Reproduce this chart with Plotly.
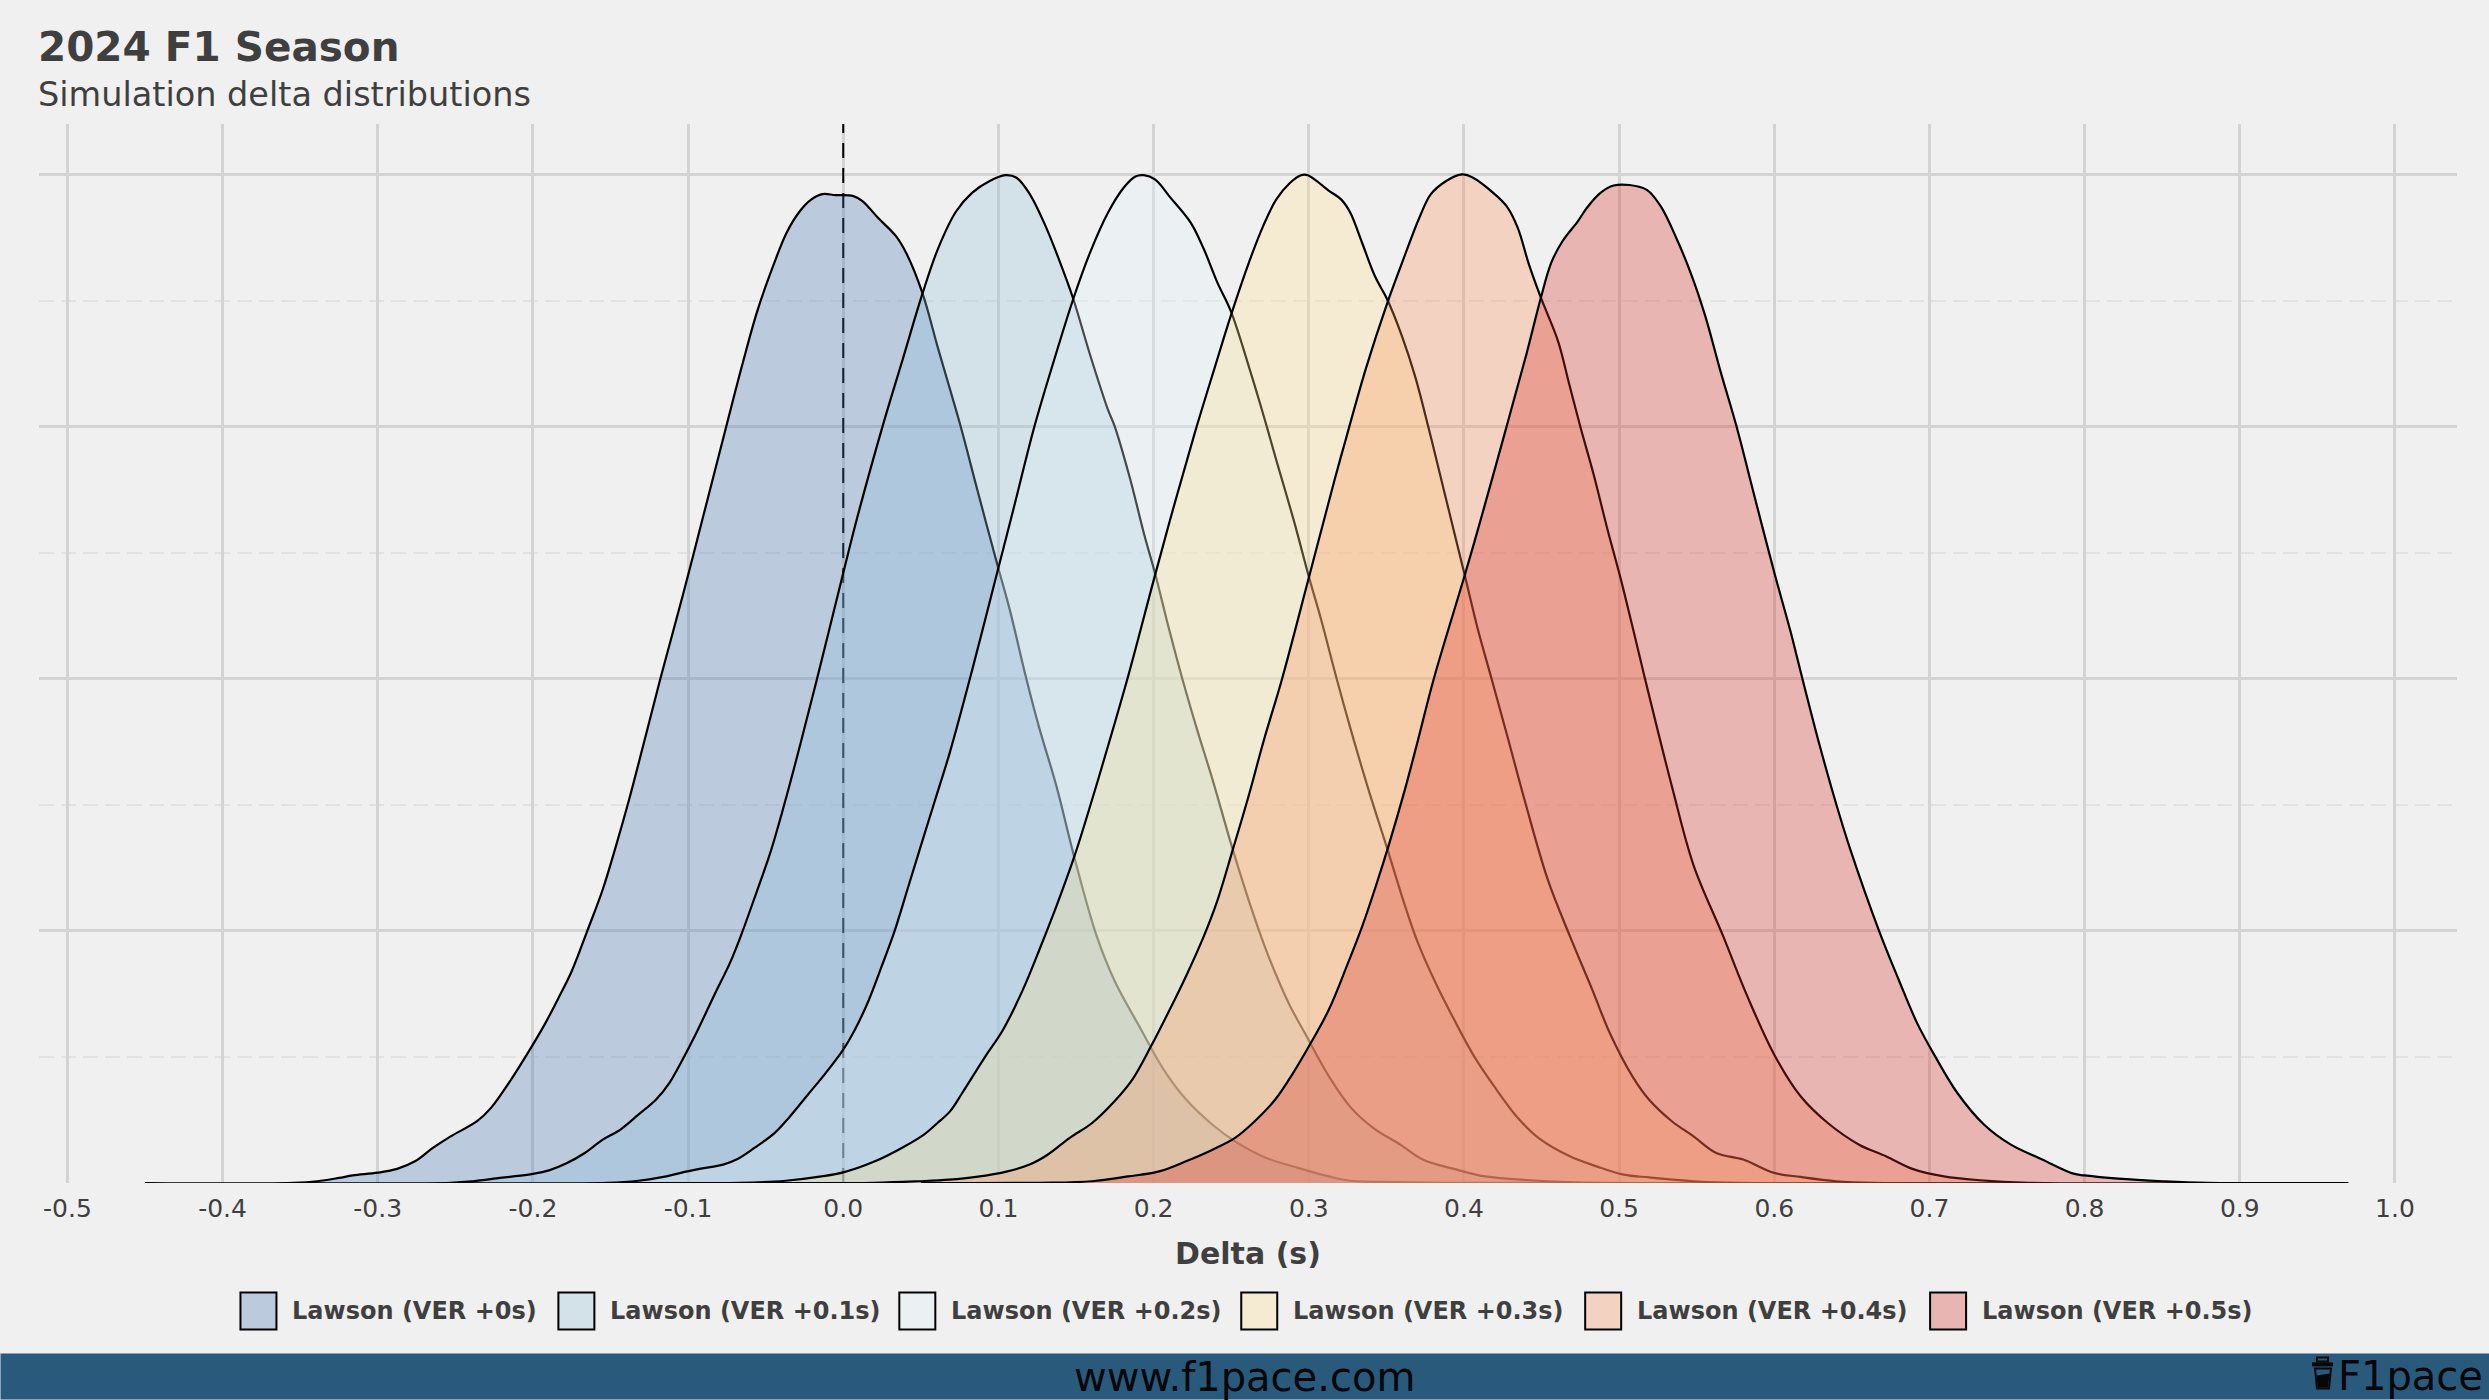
import plotly.graph_objects as go

TITLE = "2024 F1 Season"
SUBTITLE = "Simulation delta distributions"
X_LABEL = "Delta (s)"
FOOTER = "www.f1pace.com"
BRAND = "F1pace"

names = [
    "Lawson (VER +0s)",
    "Lawson (VER +0.1s)",
    "Lawson (VER +0.2s)",
    "Lawson (VER +0.3s)",
    "Lawson (VER +0.4s)",
    "Lawson (VER +0.5s)",
]
colors = ["#4575b4", "#91bfdb", "#e0f3f8", "#fee090", "#fc8d59", "#d73027"]

tick_vals = [-0.5, -0.4, -0.3, -0.2, -0.1, 0.0, 0.1, 0.2, 0.3, 0.4, 0.5, 0.6, 0.7, 0.8, 0.9, 1.0]
tick_text = ["-0.5", "-0.4", "-0.3", "-0.2", "-0.1", "0.0", "0.1", "0.2", "0.3", "0.4", "0.5", "0.6", "0.7", "0.8", "0.9", "1.0"]

x0 = [-0.45, -0.354, -0.339, -0.325, -0.316, -0.3, -0.2875, -0.276, -0.2645, -0.253, -0.236, -0.227, -0.2155, -0.2, -0.1925, -0.184, -0.175, -0.165, -0.155, -0.1465, -0.138, -0.129, -0.118, -0.103, -0.09, -0.0754, -0.0653, -0.0553, -0.045, -0.0365, -0.028, -0.0207, -0.0135, -0.005, 0.0066, 0.0124, 0.0224, 0.034, 0.041, 0.051, 0.0613, 0.0757, 0.0858, 0.0996, 0.1073, 0.118, 0.126, 0.1374, 0.149, 0.1633, 0.175, 0.192, 0.2065, 0.221, 0.238, 0.2525, 0.2727, 0.293, 0.313, 0.327, 0.356, 0.385, 0.47]
y0 = [0, 0.001, 0.007, 0.02, 0.03, 0.041, 0.056, 0.086, 0.139, 0.185, 0.245, 0.298, 0.397, 0.549, 0.628, 0.728, 0.84, 0.999, 1.164, 1.336, 1.521, 1.733, 1.997, 2.34, 2.65, 3.0, 3.24, 3.46, 3.64, 3.769, 3.854, 3.9, 3.922, 3.918, 3.914, 3.894, 3.828, 3.755, 3.683, 3.53, 3.306, 3.0, 2.763, 2.446, 2.274, 2.0, 1.812, 1.574, 1.29, 0.98, 0.8, 0.608, 0.45, 0.331, 0.231, 0.165, 0.099, 0.06, 0.026, 0.009, 0.004, 0.001, 0]

x1 = [-0.35, -0.253, -0.2386, -0.2213, -0.2127, -0.2, -0.1896, -0.178, -0.1666, -0.155, -0.1436, -0.132, -0.1206, -0.112, -0.1047, -0.0947, -0.083, -0.073, -0.066, -0.056, -0.047, -0.0386, -0.0285, -0.017, 0.0, 0.0095, 0.0253, 0.0383, 0.0512, 0.0613, 0.0728, 0.083, 0.0944, 0.1045, 0.1117, 0.1203, 0.1304, 0.139, 0.148, 0.159, 0.1706, 0.175, 0.185, 0.1937, 0.2009, 0.2095, 0.2187, 0.228, 0.238, 0.251, 0.264, 0.274, 0.287, 0.2986, 0.313, 0.3273, 0.3417, 0.359, 0.3734, 0.3935, 0.4137, 0.4424, 0.471, 0.57]
y1 = [0, 0.001, 0.007, 0.02, 0.026, 0.036, 0.05, 0.079, 0.119, 0.172, 0.212, 0.271, 0.331, 0.397, 0.476, 0.595, 0.747, 0.873, 0.98, 1.151, 1.31, 1.488, 1.72, 1.997, 2.419, 2.65, 3.0, 3.266, 3.53, 3.709, 3.854, 3.927, 3.974, 3.997, 3.987, 3.921, 3.795, 3.663, 3.511, 3.286, 3.067, 3.0, 2.79, 2.578, 2.419, 2.208, 1.996, 1.799, 1.6, 1.323, 1.071, 0.9, 0.714, 0.582, 0.423, 0.298, 0.218, 0.152, 0.093, 0.056, 0.026, 0.011, 0.003, 0]

x2 = [-0.25, -0.152, -0.132, -0.1177, -0.1004, -0.0918, -0.0774, -0.0688, -0.0573, -0.0443, -0.0342, -0.0227, -0.0112, 0.0, 0.0075, 0.0161, 0.0247, 0.0334, 0.042, 0.0506, 0.0593, 0.0688, 0.0829, 0.1, 0.11, 0.1232, 0.136, 0.1485, 0.159, 0.1706, 0.1807, 0.188, 0.1937, 0.2009, 0.211, 0.224, 0.2325, 0.2412, 0.2498, 0.262, 0.2706, 0.279, 0.2908, 0.3, 0.308, 0.318, 0.327, 0.339, 0.3504, 0.362, 0.3705, 0.382, 0.3935, 0.4065, 0.4194, 0.4338, 0.448, 0.4683, 0.4856, 0.503, 0.5194, 0.548, 0.577, 0.67]
y2 = [0, 0.001, 0.009, 0.022, 0.046, 0.057, 0.073, 0.093, 0.139, 0.198, 0.265, 0.351, 0.437, 0.529, 0.608, 0.72, 0.858, 1.005, 1.177, 1.349, 1.521, 1.71, 2.03, 2.44, 2.68, 3.0, 3.266, 3.511, 3.689, 3.848, 3.947, 3.991, 3.997, 3.98, 3.907, 3.808, 3.702, 3.57, 3.458, 3.226, 3.05, 2.869, 2.618, 2.406, 2.234, 2.0, 1.8, 1.55, 1.33, 1.1, 0.95, 0.79, 0.65, 0.503, 0.384, 0.265, 0.179, 0.106, 0.066, 0.033, 0.022, 0.007, 0.001, 0]

x3 = [-0.15, -0.066, -0.037, -0.014, 0.0, 0.0204, 0.0377, 0.052, 0.0607, 0.0688, 0.077, 0.0914, 0.103, 0.1158, 0.1273, 0.1374, 0.149, 0.1604, 0.1705, 0.1836, 0.2009, 0.2138, 0.2268, 0.2397, 0.2498, 0.262, 0.2706, 0.279, 0.288, 0.295, 0.2994, 0.305, 0.3124, 0.321, 0.3268, 0.334, 0.3426, 0.3506, 0.36, 0.3685, 0.377, 0.3858, 0.4007, 0.4088, 0.418, 0.428, 0.4396, 0.454, 0.4683, 0.4827, 0.494, 0.5086, 0.5194, 0.534, 0.548, 0.5626, 0.58, 0.6, 0.617, 0.64, 0.663, 0.77]
y3 = [0, 0.001, 0.009, 0.026, 0.042, 0.086, 0.139, 0.192, 0.238, 0.284, 0.36, 0.5, 0.608, 0.767, 0.939, 1.098, 1.296, 1.521, 1.73, 2.01, 2.41, 2.7, 2.98, 3.24, 3.44, 3.66, 3.795, 3.9, 3.967, 3.997, 3.997, 3.974, 3.938, 3.9, 3.848, 3.735, 3.597, 3.504, 3.36, 3.2, 3.0, 2.78, 2.406, 2.2, 1.996, 1.772, 1.508, 1.204, 0.979, 0.767, 0.595, 0.423, 0.33, 0.245, 0.185, 0.119, 0.093, 0.04, 0.024, 0.007, 0.001, 0]

x4 = [-0.05, 0.02, 0.049, 0.0683, 0.0856, 0.1058, 0.1201, 0.1317, 0.146, 0.1604, 0.1748, 0.1863, 0.1978, 0.2094, 0.2209, 0.2324, 0.241, 0.2511, 0.2612, 0.2712, 0.2827, 0.3003, 0.3167, 0.3239, 0.3368, 0.3506, 0.3613, 0.3714, 0.3786, 0.3886, 0.3987, 0.4059, 0.4189, 0.4275, 0.4347, 0.4419, 0.4496, 0.4606, 0.4678, 0.475, 0.4836, 0.4922, 0.5009, 0.5081, 0.5167, 0.534, 0.548, 0.567, 0.5827, 0.6, 0.617, 0.6345, 0.6547, 0.672, 0.689, 0.7094, 0.7324, 0.764, 0.87]
y4 = [0, 0.001, 0.007, 0.013, 0.024, 0.046, 0.073, 0.112, 0.179, 0.238, 0.324, 0.41, 0.536, 0.675, 0.82, 0.979, 1.118, 1.323, 1.534, 1.759, 1.997, 2.406, 2.79, 2.95, 3.23, 3.49, 3.669, 3.83, 3.921, 3.974, 4.0, 3.987, 3.927, 3.874, 3.788, 3.643, 3.511, 3.34, 3.17, 3.0, 2.81, 2.6, 2.4, 2.22, 2.0, 1.574, 1.26, 0.98, 0.74, 0.509, 0.344, 0.238, 0.152, 0.106, 0.056, 0.026, 0.011, 0.001, 0]

x5 = [0.05, 0.126, 0.1604, 0.1835, 0.2036, 0.2209, 0.238, 0.2525, 0.264, 0.2784, 0.29, 0.3014, 0.313, 0.3245, 0.3345, 0.3432, 0.352, 0.362, 0.3705, 0.3806, 0.401, 0.4117, 0.4275, 0.4404, 0.4496, 0.4563, 0.4635, 0.4735, 0.4793, 0.488, 0.4965, 0.5066, 0.5181, 0.5268, 0.5368, 0.5469, 0.5555, 0.5656, 0.5757, 0.5872, 0.6001, 0.6102, 0.6183, 0.6288, 0.6403, 0.649, 0.6676, 0.6806, 0.692, 0.7036, 0.718, 0.7353, 0.7525, 0.7727, 0.7928, 0.8, 0.8216, 0.8504, 0.879, 0.97]
y5 = [0, 0.001, 0.007, 0.026, 0.046, 0.086, 0.132, 0.179, 0.238, 0.331, 0.437, 0.556, 0.688, 0.86, 1.019, 1.177, 1.349, 1.561, 1.759, 2.0, 2.42, 2.65, 3.0, 3.29, 3.511, 3.65, 3.735, 3.815, 3.868, 3.927, 3.956, 3.958, 3.938, 3.874, 3.749, 3.597, 3.439, 3.214, 3.0, 2.725, 2.419, 2.194, 1.996, 1.746, 1.495, 1.323, 0.999, 0.8, 0.635, 0.503, 0.357, 0.231, 0.152, 0.093, 0.037, 0.03, 0.017, 0.007, 0.001, 0]

series_x = [x0, x1, x2, x3, x4, x5]
series_y = [y0, y1, y2, y3, y4, y5]

WIDTH, HEIGHT = 2489, 1400
LEFT, RIGHT, TOP, BOTTOM = 38.5, 2457, 124, 1183.5
TEXT = "#3f3f3f"
BAND = "#295a7b"
BG = "#f0f0f0"
INK = "#05070a"
FONT = "DejaVu Sans"

swatch_left = [240, 558, 899, 1241, 1585, 1930]


def px(v):
    return (v - LEFT) / (RIGHT - LEFT)


def py(v):
    return (BOTTOM - v) / (BOTTOM - TOP)


def rgba(hex_color, alpha):
    r, g, b = (int(hex_color[i:i + 2], 16) for i in (1, 3, 5))
    return f"rgba({r},{g},{b},{alpha})"


def label(text, x, y, size, anchor="left", bold=False, color=TEXT):
    return dict(
        text=f"<b>{text}</b>" if bold else text,
        x=px(x), y=py(y), xref="paper", yref="paper",
        xanchor=anchor, yanchor="middle", showarrow=False,
        font=dict(family=FONT, size=size, color=color),
    )


def box(x1_, y1_, x2_, y2_, fill, line=None, width=2):
    return dict(
        type="rect", xref="paper", yref="paper", layer="above",
        x0=px(x1_), x1=px(x2_), y0=py(y2_), y1=py(y1_), fillcolor=fill,
        line=dict(width=width if line else 0, color=line or fill),
    )


def poly(points, fill, line=None):
    path = " L ".join(f"{px(a)} {py(b)}" for a, b in points)
    return dict(
        type="path", xref="paper", yref="paper", layer="above",
        path=f"M {path} Z", fillcolor=fill,
        line=dict(width=2 if line else 0, color=line or fill),
    )


fig = go.Figure()

# the zero marker goes first so the fills wash it out, like the curves
fig.add_trace(go.Scatter(
    x=[0, 0], y=[0, 4.2], mode="lines", showlegend=False, hoverinfo="skip",
    line=dict(color="black", width=2, dash="15px,10px"),
))

for name, color, xs, ys in zip(names, colors, series_x, series_y):
    fig.add_trace(go.Scatter(
        x=xs, y=ys, name=name, mode="lines", fill="tozeroy",
        fillcolor=rgba(color, 0.3), cliponaxis=False, showlegend=False,
        line=dict(color="black", width=2.2, shape="spline", smoothing=1.0),
    ))

annotations = [
    label(TITLE, 35, 47, 40.5, bold=True),
    label(SUBTITLE, 35, 94, 33.5),
    label(FOOTER, 1244, 1378, 40, anchor="center", color=INK),
    label(BRAND, 2336, 1377, 40, color=INK),
]
shapes = [
    box(0, 1354, WIDTH, 1400, BAND),
    # little cup next to the brand name
    box(2317, 1358, 2328, 1362, BAND, INK),
    box(2312, 1363, 2333, 1367, INK),
    poly([(2315, 1369), (2331, 1369), (2329, 1389), (2317, 1389)], BAND, INK),
    poly([(2316.5, 1376), (2329.5, 1374), (2328, 1388), (2318, 1388)], INK),
]
for name, color, left in zip(names, colors, swatch_left):
    shapes.append(box(left, 1293, left + 36, 1330, rgba(color, 0.3), "black"))
    annotations.append(label(name, left + 50, 1312, 24, bold=True))

fig.update_layout(
    width=WIDTH, height=HEIGHT, autosize=False,
    paper_bgcolor=BG, plot_bgcolor=BG,
    margin=dict(l=LEFT, r=WIDTH - RIGHT, t=TOP, b=HEIGHT - BOTTOM, pad=0),
    font=dict(family=FONT, color=TEXT),
    annotations=annotations, shapes=shapes, showlegend=False,
)
fig.update_xaxes(
    range=[-0.5183, 1.04], tickmode="array", tickvals=tick_vals, ticktext=tick_text,
    tickfont=dict(size=25, color=TEXT), ticks="outside", ticklen=3, tickcolor="rgba(0,0,0,0)",
    showgrid=True, gridcolor="#d3d3d3", gridwidth=2.5, zeroline=False, showline=False,
    title=dict(text=f"<b>{X_LABEL}</b>", font=dict(size=30, color=TEXT), standoff=20),
)
fig.update_yaxes(
    range=[0, 4.2], dtick=1, showticklabels=False, ticks="",
    showgrid=True, gridcolor="#d3d3d3", gridwidth=3, zeroline=False, showline=False,
    minor=dict(dtick=0.5, showgrid=True, gridcolor="#e2e2e2", gridwidth=2, griddash="15px,7px"),
)

fig.write_html("out.html", config=dict(displayModeBar=False),
               post_script="document.body.style.margin='0';")
